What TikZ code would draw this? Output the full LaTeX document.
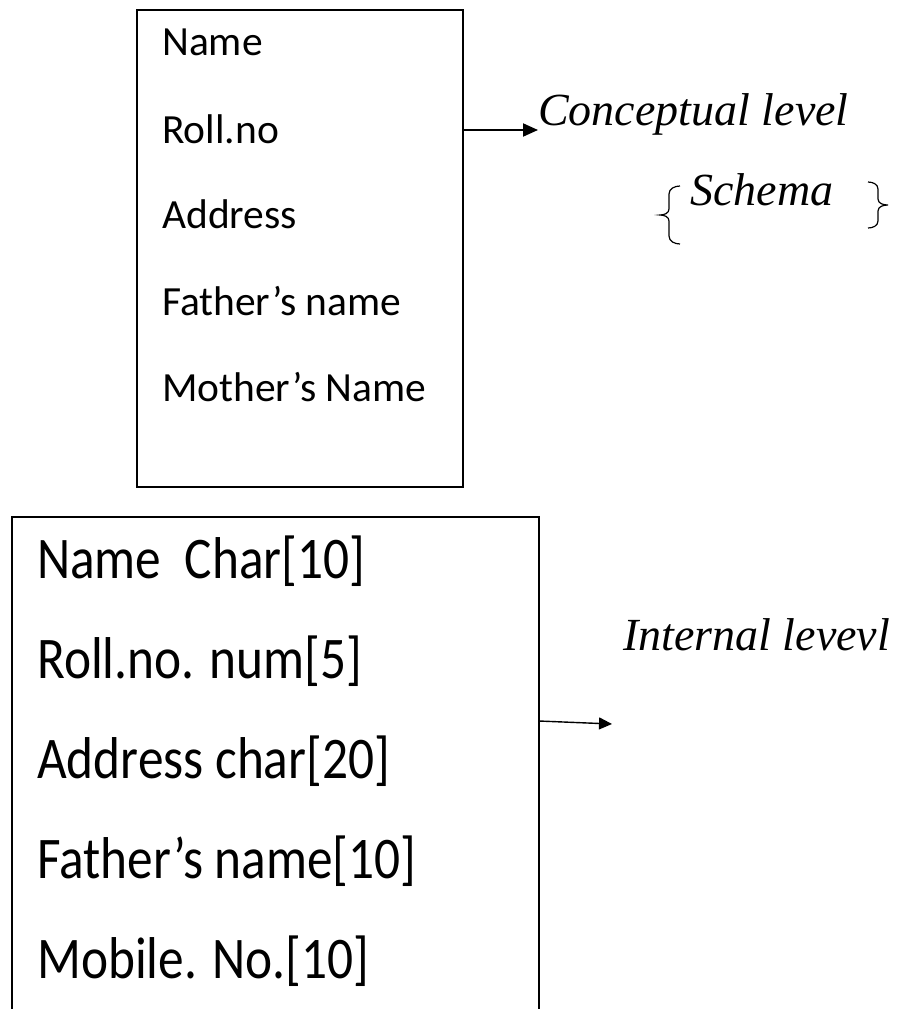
\documentclass[tikz,border=0pt]{standalone}
\usepackage{fontspec}
\setmainfont{Carlito}
\newfontfamily\condfont[FakeStretch=0.87]{Carlito}
\newfontfamily\levelfont{Liberation Serif}
\usepackage{tikz}
\usetikzlibrary{calc,positioning,arrows.meta}

\tikzset{
  field/.style={anchor=base west, inner sep=0pt, font=\fontsize{41.5}{48}\selectfont},
  bigfield/.style={anchor=base west, inner sep=0pt, font=\condfont\fontsize{59}{70}\selectfont},
  levellabel/.style={anchor=base west, inner sep=0pt, font=\levelfont\itshape\fontsize{46}{54}\selectfont},
  brace/.style={line width=1.2pt},
}

\begin{document}
\begin{tikzpicture}[x=1pt, y=-1pt]
  \useasboundingbox (0,0) rectangle (908,1009);

  % Conceptual level box
  \node[draw, line width=2.8pt, minimum width=326pt, minimum height=477pt, inner sep=0pt] (concept) at (300,248.5) {};
  \node[field] (c1) at (162,55) {Name};
  \node[field] (c2) at (162,143) {Roll.no};
  \node[field] (c3) at (162,228) {Address};
  \node[field] (c4) at (162,315) {Father’s name};
  \node[field] (c5) at (162,401) {Mother’s Name};

  \node[levellabel] (conlabel) at (538,125) {Conceptual level};
  \node[levellabel] (schema) at (690,205) {Schema};

  % Braces round the schema
  \draw[brace] (680,186) to[out=180,in=90] (669,194) -- (669,209) to[out=-90,in=0] (660,215)
    to[out=0,in=90] (669,221) -- (669,236) to[out=-90,in=180] (680,244);
  \draw[brace] (868,182) to[out=0,in=90] (878,189) -- (878,199) to[out=-90,in=180] (888,205)
    to[out=180,in=90] (878,211) -- (878,221) to[out=-90,in=0] (868,228);

  \coordinate (ca) at (463,130);
  \draw[line width=2pt, -{Triangle[length=15pt,width=13pt]}] (ca) -- (conlabel.west |- ca);

  % Internal level box (open at the bottom)
  \coordinate (ibl) at (12,1009);
  \coordinate (ibr) at (539,1009);
  \draw[line width=1.3pt] (ibl) |- (539,517) -- (ibr);
  \node[bigfield] (i1) at (37,578) {Name\ \ Char[10]};
  \node[bigfield] (i2) at (37,678) {Roll.no. num[5]};
  \node[bigfield] (i3) at (37,778) {Address char[20]};
  \node[bigfield] (i4) at (37,878) {Father’s name[10]};
  \node[bigfield] (i5) at (37,978) {Mobile. No.[10]};

  \node[levellabel] (intlabel) at (623,650) {Internal levevl};

  \coordinate (ia) at (539,721);
  \coordinate (ib) at (612,724);
  \draw[line width=1.4pt, -{Triangle[length=13pt,width=12pt]}] (ia) -- (ib);
\end{tikzpicture}
\end{document}
